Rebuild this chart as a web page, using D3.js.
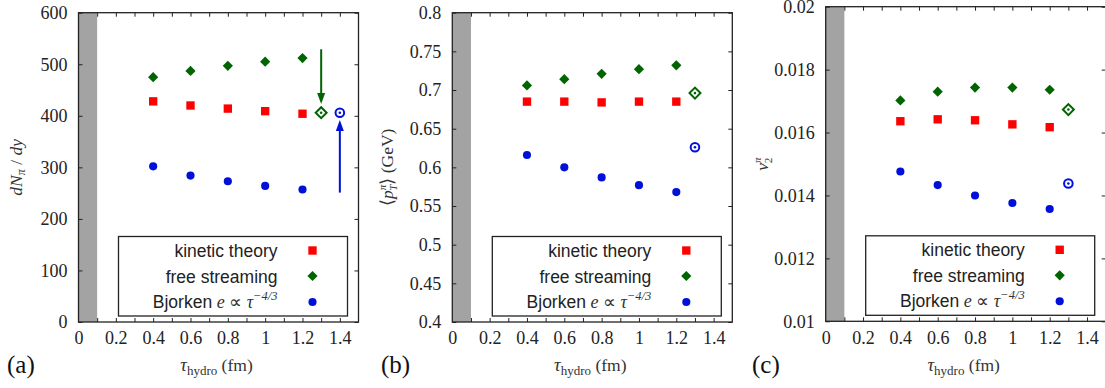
<!DOCTYPE html>
<html>
<head>
<meta charset="utf-8">
<script src="https://cdn.jsdelivr.net/npm/d3@7"></script>
<style>
  body { margin: 0; background: #fff; }
  svg { display: block; }
  .leg { font-family: "Liberation Sans", Arial, sans-serif; font-size: 17.5px; fill: #222; }
  .math { font-family: "Liberation Serif", serif; font-style: italic; fill: #333; }
</style>
</head>
<body>
<svg></svg>
<script>
const tau = [0.4, 0.6, 0.8, 1.0, 1.2]
const xTicks = [0, 0.2, 0.4, 0.6, 0.8, 1, 1.2, 1.4]
const xMinor = [0.1, 0.2, 0.3, 0.4, 0.5, 0.6, 0.7, 0.8, 0.9, 1.0, 1.1, 1.2, 1.3, 1.4]
const legendLabels = ["kinetic theory", "free streaming", "Bjorken"]

// (a) pion multiplicity
const dndyTicks = [0, 100, 200, 300, 400, 500, 600]
const dndyKinetic = [428, 420, 414, 409, 404]
const dndyFree = [475, 487, 497, 505, 512]
const dndyBjorken = [302, 284, 273, 264, 257]
const dndyFreeOpen = [1.3, 406]
const dndyBjorkenOpen = [1.4, 406]
const dndyArrows = [[1.3, 529, 423], [1.4, 251, 392]]   // x, from, to

// (b) mean pT
const ptTicks = [0.4, 0.45, 0.5, 0.55, 0.6, 0.65, 0.7, 0.75, 0.8]
const ptKinetic = [0.685, 0.685, 0.684, 0.685, 0.685]
const ptFree = [0.706, 0.714, 0.721, 0.727, 0.732]
const ptBjorken = [0.616, 0.600, 0.587, 0.577, 0.568]
const ptFreeOpen = [1.3, 0.696]
const ptBjorkenOpen = [1.3, 0.626]

// (c) v2
const v2Ticks = [0.01, 0.012, 0.014, 0.016, 0.018, 0.02]
const v2Kinetic = [0.01636, 0.01642, 0.01639, 0.01626, 0.01617]
const v2Free = [0.01702, 0.0173, 0.01743, 0.01743, 0.01736]
const v2Bjorken = [0.01476, 0.01433, 0.0140, 0.01376, 0.01357]
const v2FreeOpen = [1.3, 0.01673]
const v2BjorkenOpen = [1.3, 0.01438]

const red = "#ff0000", green = "#006400", blue = "#0010d8"
const W = 280

const svg = d3.select('svg').attr('width', 1105).attr('height', 388)

const panels = [
  { left: 78.5, top: 12.7, h: 309.3, yTicks: dndyTicks, kin: dndyKinetic, free: dndyFree, bj: dndyBjorken,
    freeOpen: dndyFreeOpen, bjOpen: dndyBjorkenOpen, arrows: dndyArrows, tag: "(a)", tagX: 7, ylabX: 22 },
  { left: 452.3, top: 12.7, h: 309.3, yTicks: ptTicks, kin: ptKinetic, free: ptFree, bj: ptBjorken,
    freeOpen: ptFreeOpen, bjOpen: ptBjorkenOpen, arrows: [], tag: "(b)", tagX: 381, ylabX: 393 },
  { left: 825.7, top: 6.7, h: 314.6, yTicks: v2Ticks, kin: v2Kinetic, free: v2Free, bj: v2Bjorken,
    freeOpen: v2FreeOpen, bjOpen: v2BjorkenOpen, arrows: [], tag: "(c)", tagX: 752, ylabX: 768 }
]

const square = d3.symbol().type(d3.symbolSquare).size(70)
const diamond = d3.symbol().type(d3.symbolSquare).size(52)
const circle = d3.symbol().type(d3.symbolCircle).size(52)

const drawPanel = (p, idx) => {
  const g = svg.append('g').attr('transform', `translate(${p.left},${p.top})`)
  const x = d3.scaleLinear().domain([0, 1.5]).range([0, W])
  const y = d3.scaleLinear().domain(d3.extent(p.yTicks)).range([p.h, 0])

  g.append('rect')
    .attr('x', x(0)).attr('y', 0)
    .attr('width', x(0.1) - x(0)).attr('height', p.h)
    .attr('fill', '#a3a3a3')

  // bottom labels + minor ticks
  g.append('g').attr('transform', `translate(0,${p.h})`)
    .call(d3.axisBottom(x).tickValues(xTicks).tickSize(0).tickPadding(9.5).tickFormat(String))
  g.append('g').attr('transform', `translate(0,${p.h})`)
    .call(d3.axisBottom(x).tickValues(xMinor).tickSizeInner(-4).tickSizeOuter(0).tickFormat(''))
  g.append('g')
    .call(d3.axisTop(x).tickValues(xMinor).tickSizeInner(-4).tickSizeOuter(0).tickFormat(''))

  g.append('g')
    .call(d3.axisLeft(y).tickValues(p.yTicks).tickSizeInner(-4).tickSizeOuter(0).tickPadding(11).tickFormat(String))
  g.append('g').attr('transform', `translate(${W},0)`)
    .call(d3.axisRight(y).tickValues(p.yTicks).tickSizeInner(-4).tickSizeOuter(0).tickFormat(''))

  g.selectAll('.domain').remove()
  g.selectAll('.tick line').attr('stroke', '#222')
  g.selectAll('.tick text')
    .attr('fill', '#222')
    .attr('font-family', 'Liberation Serif')
    .attr('font-size', 18)

  g.append('rect')
    .attr('width', W).attr('height', p.h)
    .attr('fill', 'none').attr('stroke', '#222').attr('stroke-width', 1.3)

  // arrows (tip at "to", head pointing from "from")
  p.arrows.forEach(([ax, y0, y1], i) => {
    const col = i === 0 ? green : blue
    const back = y(y0) < y(y1) ? -1 : 1
    g.append('line')
      .attr('x1', x(ax)).attr('x2', x(ax))
      .attr('y1', y(y0)).attr('y2', y(y1) + back * 6)
      .attr('stroke', col).attr('stroke-width', 2)
    g.append('path')
      .attr('d', d3.line()([[x(ax), y(y1)], [x(ax) - 4, y(y1) + back * 11], [x(ax) + 4, y(y1) + back * 11]]) + 'Z')
      .attr('fill', col)
  })

  g.selectAll('.kin').data(p.kin).join('path').attr('class', 'kin')
    .attr('transform', (d, i) => `translate(${x(tau[i])},${y(d)})`)
    .attr('d', square).attr('fill', red)
  g.selectAll('.free').data(p.free).join('path').attr('class', 'free')
    .attr('transform', (d, i) => `translate(${x(tau[i])},${y(d)}) rotate(45)`)
    .attr('d', diamond).attr('fill', green)
  g.selectAll('.bj').data(p.bj).join('path').attr('class', 'bj')
    .attr('transform', (d, i) => `translate(${x(tau[i])},${y(d)})`)
    .attr('d', circle).attr('fill', blue)

  // open markers
  const [fx, fy] = p.freeOpen
  g.append('path')
    .attr('transform', `translate(${x(fx)},${y(fy)}) rotate(45)`)
    .attr('d', d3.symbol().type(d3.symbolSquare).size(60)())
    .attr('fill', 'none').attr('stroke', green).attr('stroke-width', 2)
  g.append('circle').attr('cx', x(fx)).attr('cy', y(fy)).attr('r', 1.3).attr('fill', green)
  const [bx, by] = p.bjOpen
  g.append('circle').attr('cx', x(bx)).attr('cy', y(by)).attr('r', 4.3)
    .attr('fill', 'none').attr('stroke', blue).attr('stroke-width', 2)
  g.append('circle').attr('cx', x(bx)).attr('cy', y(by)).attr('r', 1.3).attr('fill', blue)

  // legend
  const lg = g.append('g').attr('transform', `translate(40,${p.h - 85.5})`)
  lg.append('rect').attr('width', 229).attr('height', 79.5)
    .attr('fill', '#fff').attr('stroke', '#222').attr('stroke-width', 1.3)
  const rowY = [20, 46, 71]
  const markY = [14, 39.5, 65.5]
  legendLabels.forEach((lab, i) => {
    const t = lg.append('text').attr('class', 'leg').attr('x', 159).attr('y', rowY[i]).attr('text-anchor', 'end')
    t.append('tspan').text(lab)
    if (i === 2) {
      t.append('tspan').attr('class', 'math').attr('font-size', 18).text(' e ')
      t.append('tspan').attr('font-family', 'Liberation Serif').attr('font-size', 18).attr('fill', '#333').text('∝ ')
      t.append('tspan').attr('class', 'math').attr('font-size', 18).text('τ')
      t.append('tspan').attr('class', 'math').attr('font-size', 12.5).attr('dy', -8).text('−4/3')
    }
  })
  lg.append('path').attr('transform', `translate(194,${markY[0]})`).attr('d', square).attr('fill', red)
  lg.append('path').attr('transform', `translate(194,${markY[1]}) rotate(45)`).attr('d', diamond).attr('fill', green)
  lg.append('path').attr('transform', `translate(194,${markY[2]})`).attr('d', circle).attr('fill', blue)

  // x label
  const xl = svg.append('text')
    .attr('x', p.left + W / 2 - 2).attr('y', 371)
    .attr('text-anchor', 'middle')
    .attr('font-family', 'Liberation Serif').attr('font-size', 17.5).attr('fill', '#333')
  xl.append('tspan').attr('font-style', 'italic').attr('font-size', 18.5).text('τ')
  xl.append('tspan').attr('font-size', 13).attr('dy', 4).text('hydro')
  xl.append('tspan').attr('dy', -4).text(' (fm)')

  // panel tag
  svg.append('text').attr('x', p.tagX).attr('y', 373)
    .attr('font-family', 'Liberation Serif').attr('font-size', 25).attr('fill', '#111')
    .text(p.tag)

  // y label
  const cy = p.top + p.h / 2
  const yl = svg.append('text')
    .attr('transform', `translate(${p.ylabX},${cy}) rotate(-90)`)
    .attr('text-anchor', 'middle')
    .attr('font-family', 'Liberation Serif').attr('font-size', 17.5).attr('fill', '#333')
  if (idx === 0) {
    yl.append('tspan').attr('font-style', 'italic').text('dN')
    yl.append('tspan').attr('font-style', 'italic').attr('font-size', 12).attr('dy', 3).text('π')
    yl.append('tspan').attr('dy', -3).text(' / ')
    yl.append('tspan').attr('font-style', 'italic').text('dy')
  } else if (idx === 1) {
    yl.append('tspan').text('⟨')
    yl.append('tspan').attr('font-style', 'italic').text('p')
    yl.append('tspan').attr('font-style', 'italic').attr('font-size', 11).attr('dy', -7).text('π')
    yl.append('tspan').attr('font-style', 'italic').attr('font-size', 11).attr('dx', -6).attr('dy', 11).text('T')
    yl.append('tspan').attr('dy', -4).text('⟩ (GeV)')
  } else {
    yl.append('tspan').attr('font-style', 'italic').text('v')
    yl.append('tspan').attr('font-style', 'italic').attr('font-size', 11).attr('dy', -7).text('π')
    yl.append('tspan').attr('font-size', 11).attr('dx', -6).attr('dy', 11).text('2')
  }
}

panels.forEach(drawPanel)
</script>
</body>
</html>
